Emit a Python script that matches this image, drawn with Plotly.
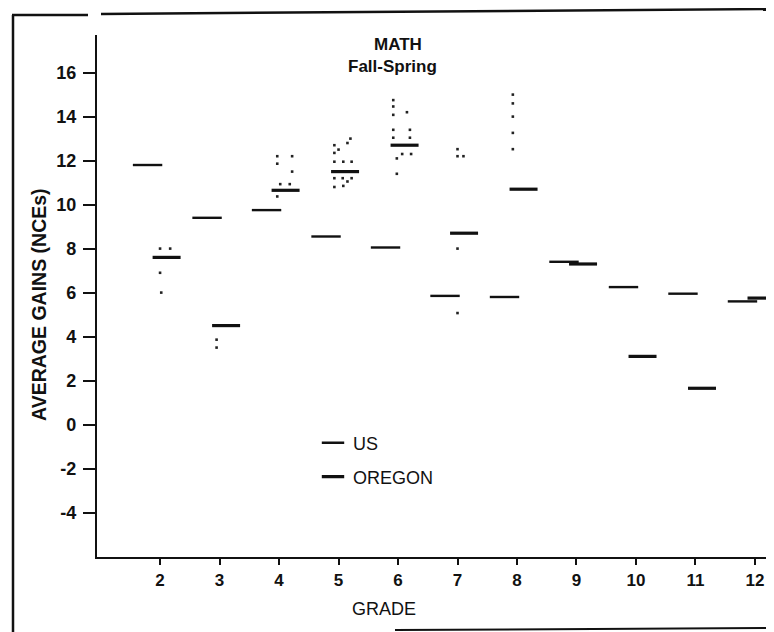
import plotly.graph_objects as go

# ---------------- data ----------------
grades = [2, 3, 4, 5, 6, 7, 8, 9, 10, 11, 12]
us_gain = [11.8, 9.4, 9.75, 8.55, 8.05, 5.85, 5.8, 7.4, 6.25, 5.95, 5.6]
oregon_gain = [7.6, 4.5, 10.65, 11.5, 12.7, 8.7, 10.7, 7.3, 3.1, 1.65, 5.75]

# scattered individual (district) points around the Oregon means
dot_x = [2.0, 2.17, 2.0, 2.02,
         2.95, 2.95,
         3.97, 4.22, 3.97, 4.22, 4.02, 4.18, 3.97,
         4.93, 5.0, 4.93, 4.93, 5.08, 5.22, 4.93, 5.07, 5.22, 5.15, 4.93, 5.08, 5.2, 5.15,
         5.92, 5.92, 5.92, 6.15, 5.92, 6.2, 5.92, 6.2, 6.07, 6.22, 5.98, 5.98,
         7.0, 7.0, 7.1, 7.0, 7.0,
         7.93, 7.93, 7.93, 7.93, 7.93]
dot_y = [8.0, 8.0, 6.9, 6.0,
         3.86, 3.5,
         12.2, 12.2, 11.86, 11.5, 10.93, 10.93, 10.37,
         12.7, 12.5, 12.35, 11.95, 11.95, 11.95, 11.2, 11.2, 11.2, 11.05, 10.8, 10.85, 13.0, 12.8,
         14.75, 14.46, 14.08, 14.2, 13.4, 13.4, 13.04, 13.04, 12.3, 12.3, 12.1, 11.4,
         12.52, 12.2, 12.2, 8.0, 5.07,
         15.0, 14.6, 14.0, 13.26, 12.52]

y_ticks = [-4, -2, 0, 2, 4, 6, 8, 10, 12, 14, 16]
x_ticks = grades

title_lines = ["MATH", "Fall-Spring"]
x_title = "GRADE"
y_title = "AVERAGE GAINS (NCEs)"

# ---------------- figure ----------------
US_SHIFT = -0.21
OR_SHIFT = 0.11
INK = "#111111"
FONT = "Liberation Sans, Arial, sans-serif"

fig = go.Figure()

fig.add_trace(go.Scatter(
    x=dot_x, y=dot_y, mode="markers",
    marker=dict(symbol="square", size=2.6, color="#222222"),
    showlegend=False, hoverinfo="skip"))

fig.add_trace(go.Scatter(
    x=[g + US_SHIFT for g in grades], y=us_gain, mode="markers", name="US",
    marker=dict(symbol="line-ew", size=21, color=INK, line=dict(width=2.4, color=INK)),
    legend="legend"))

fig.add_trace(go.Scatter(
    x=[g + OR_SHIFT for g in grades], y=oregon_gain, mode="markers", name="OREGON",
    marker=dict(symbol="line-ew", size=20, color=INK, line=dict(width=3.2, color=INK)),
    legend="legend2"))

# page body has an 8px margin, so the figure is drawn 8px in from the window corner
OFF = 8
W, H = 774 - OFF, 632 - OFF
PL, PT, PR, PB = 97, 35, 774, 557          # plot area in window pixels
L, T = PL - OFF, PT - OFF
R = W - (PR - OFF)
B = H - (PB - OFF)
pw, ph = PR - PL, PB - PT


def px(xp):
    return (xp - PL) / pw


def py(yp):
    return (PB - yp) / ph


def label(text, x, y, size, bold=False, angle=0):
    f = dict(size=size, family=FONT, color=INK)
    if bold:
        f["weight"] = "bold"
    return dict(text=text, x=px(x), y=py(y), xref="paper", yref="paper",
                xanchor="center", yanchor="middle", textangle=angle,
                showarrow=False, font=f)


fig.update_layout(
    width=W, height=H,
    margin=dict(l=L, r=R, t=T, b=B, autoexpand=False),
    paper_bgcolor="white", plot_bgcolor="white",
    font=dict(family=FONT, color=INK, size=17),
    xaxis=dict(range=[0.94, 12.32], tickvals=x_ticks, ticktext=[str(v) for v in x_ticks],
               showgrid=False, zeroline=False, showline=True, linecolor=INK, linewidth=2.2,
               ticks="outside", ticklen=6, tickwidth=1.6, tickcolor=INK,
               tickfont=dict(family=FONT, size=17, color=INK, weight="bold")),
    yaxis=dict(range=[-6.02, 17.71], tickvals=y_ticks, ticktext=[str(v) for v in y_ticks],
               showgrid=False, zeroline=False, showline=True, linecolor=INK, linewidth=2.2,
               ticks="outside", ticklen=12, tickwidth=1.6, tickcolor=INK, ticklabelstandoff=3,
               tickfont=dict(family=FONT, size=18, color=INK, weight="bold")),
    legend=dict(x=px(313), y=py(443), xanchor="left", yanchor="middle",
                bgcolor="rgba(0,0,0,0)", font=dict(size=18, family=FONT, color=INK)),
    legend2=dict(x=px(313), y=py(477), xanchor="left", yanchor="middle",
                 bgcolor="rgba(0,0,0,0)", font=dict(size=18, family=FONT, color=INK)),
    annotations=[
        label(title_lines[0], 398, 44, 17, bold=True),
        label(title_lines[1], 392, 67, 17, bold=True),
        label(x_title, 384, 609, 18),
        label(y_title, 39, 305, 19.5, bold=True, angle=-90),
    ],
    shapes=[
        # scanned page frame
        dict(type="line", xref="paper", yref="paper", x0=px(13), x1=px(13), y0=py(15), y1=py(632),
             line=dict(color=INK, width=2.5)),
        dict(type="line", xref="paper", yref="paper", x0=px(12), x1=px(88), y0=py(15), y1=py(15),
             line=dict(color=INK, width=2.5)),
        dict(type="line", xref="paper", yref="paper", x0=px(101), x1=px(774), y0=py(14), y1=py(9),
             line=dict(color=INK, width=2.5)),
        dict(type="line", xref="paper", yref="paper", x0=px(395), x1=px(774), y0=py(630), y1=py(628),
             line=dict(color=INK, width=2)),
    ],
)

fig.write_html("out.html")
